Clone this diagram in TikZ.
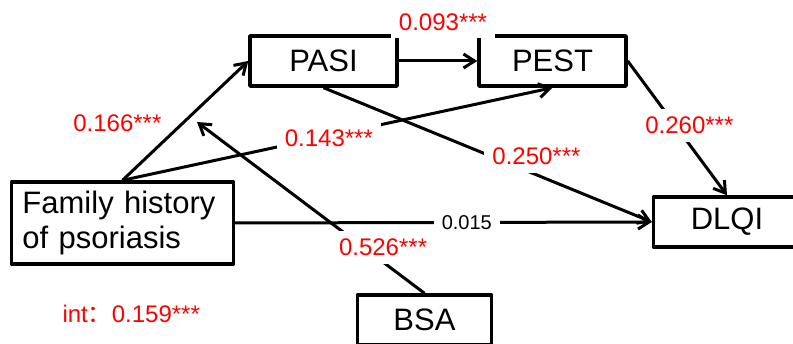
\documentclass[tikz,border=0pt]{standalone}
\usepackage{fontspec}
\setmainfont{Liberation Sans}
\newfontfamily\cjk{Noto Sans CJK SC}
\usetikzlibrary{arrows.meta}
\begin{document}
\begin{tikzpicture}[x=1pt, y=-1pt, line width=3pt, line join=round, >={Straight Barb[length=11pt,width=14pt]},
	box/.style={draw, line width=3.4pt, minimum width=147pt, minimum height=50pt, inner sep=0pt, font=\fontsize{31}{35}\selectfont},
	coef/.style={text=red, fill=white, inner xsep=8pt, inner ysep=8pt, font=\fontsize{24}{28}\selectfont}]
	\useasboundingbox (0,0) rectangle (793,344);
	\node[box] (PASI) at (323.5,61) {PASI};
	\node[box] (PEST) at (552.5,61) {PEST};
	\node[box, minimum width=222pt, minimum height=82pt, text width=200pt, align=left] (F) at (122.5,223) {Family history\\of psoriasis};
	\node[box] (DLQI) at (727,222) {DLQI};
	\node[box, minimum width=134pt] (BSA) at (424.5,320) {BSA};
	\coordinate (M) at (197,122);
	\draw[->] (F.north) -- (PASI.west) node[coef, fill=none, pos=0.48, left=12pt] {0.166***};
	\draw[->] (F.north) -- (PEST.south) node[coef, pos=0.48, yshift=-2pt] {0.143***};
	\draw[->] (PASI.east) -- (PEST.west) node[coef, midway, above=21pt, xshift=5pt] {0.093***};
	\draw[->] (PASI.south) -- (DLQI.west) node[coef, pos=0.6, xshift=16pt, yshift=12pt] {0.250***};
	\draw[->] (PEST.east) -- (DLQI.north) node[coef, pos=0.48, xshift=14pt] {0.260***};
	\draw[->] (F.east) -- (DLQI.west) node[coef, pos=0.556, text=black, font=\fontsize{20}{24}\selectfont] {0.015};
	\draw[->] (BSA.north) -- (M) node[coef, pos=0.27, xshift=20pt] {0.526***};
	\node[text=red, inner sep=0pt, anchor=base west, font=\fontsize{24}{28}\selectfont] (int) at (61,323) {int{\cjk ：}0.159***};
\end{tikzpicture}
\end{document}
